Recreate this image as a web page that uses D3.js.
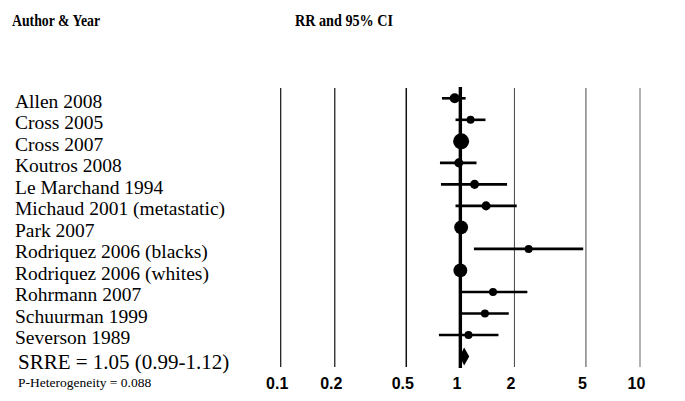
<!DOCTYPE html>
<html>
<head>
<meta charset="utf-8">
<script src="https://cdn.jsdelivr.net/npm/d3@7"></script>
<style>
  body { margin: 0; background: #fff; }
  svg { display: block; }
</style>
</head>
<body>
<svg id="chart" width="685" height="401"></svg>
<script>
// study rows
var studies = ["Allen 2008", "Cross 2005", "Cross 2007", "Koutros 2008", "Le Marchand 1994",
  "Michaud 2001 (metastatic)", "Park 2007", "Rodriquez 2006 (blacks)", "Rodriquez 2006 (whites)",
  "Rohrmann 2007", "Schuurman 1999", "Severson 1989"];
var rr    = [0.93, 1.14, 1.01, 0.98, 1.20, 1.39, 1.01, 2.40, 1.00, 1.52, 1.37, 1.11];
var lower = [0.79, 0.94, 0.98, 0.77, 0.78, 0.94, 0.98, 1.19, 0.97, 1.02, 1.02, 0.76];
var upper = [1.07, 1.38, 1.04, 1.23, 1.82, 2.06, 1.04, 4.83, 1.03, 2.36, 1.86, 1.63];
var weights = [11, 7, 28, 9, 9, 9, 21, 7, 21, 7, 7, 7];

// summary estimate
var pooled = {label: "SRRE = 1.05 (0.99-1.12)", rr: 1.05, lower: 0.99, upper: 1.12};
var heterogeneity = "P-Heterogeneity = 0.088";

var tickVals = [0.1, 0.2, 0.5, 1, 2, 5, 10];
var tickLabels = ["0.1", "0.2", "0.5", "1", "2", "5", "10"];

var svg = d3.select("#chart");

xScale = d3.scaleLog()
  .domain([0.1, 10])
  .range([280.7, 640]);

yScale = d3.scalePoint()
  .domain(studies.concat(["pooled"]))
  .range([98.3, 356.5]);

var rScale = d3.scaleSqrt().domain([0, 28]).range([0, 8]);

// headers (the original face is a condensed bold serif)
svg.append("text").attr("x", 12).attr("y", 26)
  .attr("textLength", 88).attr("lengthAdjust", "spacingAndGlyphs")
  .style("font", "bold 16.5px 'Liberation Serif', 'Times New Roman', serif")
  .text("Author & Year");
svg.append("text").attr("x", 295).attr("y", 26)
  .attr("textLength", 98).attr("lengthAdjust", "spacingAndGlyphs")
  .style("font", "bold 16.5px 'Liberation Serif', 'Times New Roman', serif")
  .text("RR and 95% CI");

// vertical reference lines
var gridStroke = {0.1: "#111", 0.2: "#111", 0.5: "#111", 2: "#444", 5: "#666", 10: "#999"};
var gridWidth = {0.1: 1.2, 0.2: 1.2, 0.5: 1.5, 2: 1, 5: 1.2, 10: 1.5};
svg.append("g").selectAll("line")
  .data(tickVals.filter(function (d) { return d != 1; }))
  .enter().append("line")
  .attr("x1", function (d) { return xScale(d); })
  .attr("x2", function (d) { return xScale(d); })
  .attr("y1", 88).attr("y2", 367)
  .attr("stroke", function (d) { return gridStroke[d]; })
  .attr("stroke-width", function (d) { return gridWidth[d]; });

// confidence intervals
svg.append("g").selectAll("line")
  .data(studies)
  .enter().append("line")
  .attr("x1", function (d, i) { return xScale(lower[i]); })
  .attr("x2", function (d, i) { return xScale(upper[i]); })
  .attr("y1", function (d) { return yScale(d); })
  .attr("y2", function (d) { return yScale(d); })
  .attr("stroke", "#000")
  .attr("stroke-width", 2.6);

// null line
svg.append("line")
  .attr("x1", xScale(1)).attr("x2", xScale(1))
  .attr("y1", 87).attr("y2", 368)
  .attr("stroke", "#000").attr("stroke-width", 3.4);

// point estimates
svg.append("g").selectAll("circle")
  .data(studies)
  .enter().append("circle")
  .attr("cx", function (d, i) { return xScale(rr[i]); })
  .attr("cy", function (d) { return yScale(d); })
  .attr("r", function (d, i) { return rScale(weights[i]); })
  .attr("fill", "#000");

// pooled diamond
var py = yScale("pooled");
svg.append("path")
  .attr("d", "M" + xScale(pooled.lower) + "," + py +
    "L" + xScale(pooled.rr) + "," + (py - 9) +
    "L" + xScale(pooled.upper) + "," + py +
    "L" + xScale(pooled.rr) + "," + (py + 9) + "Z")
  .attr("fill", "#000");

// study labels
svg.append("g").selectAll("text")
  .data(studies)
  .enter().append("text")
  .attr("x", 15)
  .attr("y", function (d) { return yScale(d) + 9.5; })
  .style("font", "19.5px 'Liberation Serif', 'Times New Roman', serif")
  .text(function (d) { return d; });

svg.append("text").attr("x", 18).attr("y", py + 12)
  .style("font", "21px 'Liberation Serif', 'Times New Roman', serif")
  .text(pooled.label);
svg.append("text").attr("x", 18).attr("y", 387)
  .style("font", "13.5px 'Liberation Serif', 'Times New Roman', serif")
  .text(heterogeneity);

// bottom axis labels
baxis = d3.axisBottom(xScale)
  .tickValues(tickVals)
  .tickFormat(function (d, i) { return tickLabels[i]; })
  .tickSize(0)
  .tickPadding(0);

var ax = svg.append("g")
  .attr("transform", "translate(0,378)")
  .call(baxis);
ax.select(".domain").remove();
ax.selectAll("text")
  .attr("dx", -4)
  .style("font", "bold 16px 'Liberation Sans', Arial, sans-serif")
  .attr("fill", "#000");
</script>
</body>
</html>
